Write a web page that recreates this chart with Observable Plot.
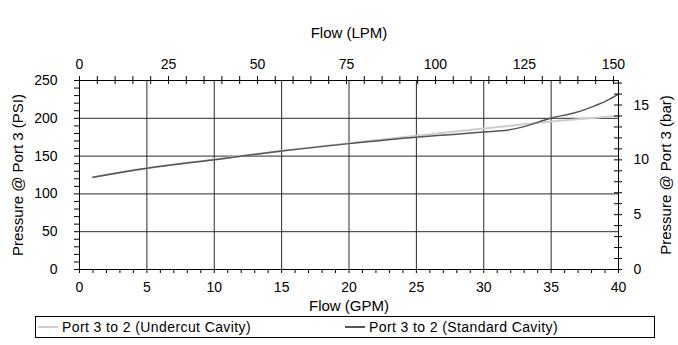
<!DOCTYPE html>
<html><head><meta charset="utf-8">
<script src="https://cdn.jsdelivr.net/npm/d3@7"></script>
<script src="https://cdn.jsdelivr.net/npm/@observablehq/plot@0.6"></script>
<style>
body{margin:0;background:#fff;font-family:"Liberation Sans",Arial,sans-serif;}
#wrap{position:relative;width:678px;height:345px;}
#chart svg{display:block;}
#legend{position:absolute;left:35px;top:316px;width:620px;height:22px;border:1px solid #000;box-sizing:border-box;font-size:14px;letter-spacing:0.4px;color:#000;background:#fff;}
.item{position:absolute;top:2px;white-space:nowrap;line-height:16px;}
.swatch{display:inline-block;width:20px;height:0;vertical-align:middle;margin-right:4px;position:relative;top:-1px;}
</style></head><body>
<div id="wrap"><div id="chart"></div><div id="legend"></div></div>
<script>
// Units
const LPM_PER_GPM = 3.78541;
const PSI_PER_BAR = 14.5038;

// Tick labels / tick positions
const gpmTicks = [0, 5, 10, 15, 20, 25, 30, 35, 40];
const gpmMinor = [0,1,2,3,4,5,6,7,8,9,10,11,12,13,14,15,16,17,18,19,20,21,22,23,24,25,26,27,28,29,30,31,32,33,34,35,36,37,38,39,40];
const psiTicks = [0, 50, 100, 150, 200, 250];
const psiMinor = [0,10,20,30,40,50,60,70,80,90,100,110,120,130,140,150,160,170,180,190,200,210,220,230,240,250];
const lpmTicks = [0, 25, 50, 75, 100, 125, 150];
const lpmMinor = [0,5,10,15,20,25,30,35,40,45,50,55,60,65,70,75,80,85,90,95,100,105,110,115,120,125,130,135,140,145,150];
const barTicks = [0, 5, 10, 15];
const barMinor = [0,1,2,3,4,5,6,7,8,9,10,11,12,13,14,15,16,17];

// Series
const seriesNames = ["Port 3 to 2 (Undercut Cavity)", "Port 3 to 2 (Standard Cavity)"];
const undercutFlow = [1.0, 5, 10, 15, 20, 25, 30, 35, 40];
const undercutPsi  = [122, 134, 145.5, 157, 167, 177, 186.5, 195.8, 203.5];
const standardFlow = [1.0, 5, 10, 15, 20, 25, 28, 30, 31.8, 33, 35, 36.7, 38.1, 39.2, 40];
const standardPsi  = [122, 134, 145.3, 156.8, 166.5, 175, 179, 182, 184.5, 189, 200.5, 207, 215.5, 224, 232];

const undercut = undercutFlow.map((x, i) => ({x, y: undercutPsi[i]}));
const standard = standardFlow.map((x, i) => ({x, y: standardPsi[i]}));

const font = "Liberation Sans, Arial, sans-serif";

const chart = Plot.plot({
  width: 678,
  height: 315,
  marginLeft: 79,
  marginRight: 60,
  marginTop: 80,
  marginBottom: 46,
  style: {fontFamily: font, fontSize: "14px", color: "#000", background: "#fff"},
  x: {domain: [0, 40]},
  y: {domain: [0, 250]},
  marks: [
    Plot.ruleX(gpmTicks, {stroke: "#2a2a2a", strokeWidth: 1}),
    Plot.ruleY(psiTicks, {stroke: "#2a2a2a", strokeWidth: 1}),
    Plot.line(undercut, {x: "x", y: "y", stroke: "#cdcdcd", strokeWidth: 2, curve: "monotone-x"}),
    Plot.line(standard, {x: "x", y: "y", stroke: "#555", strokeWidth: 1.5, curve: "monotone-x"}),
    Plot.frame({stroke: "#000"}),
    // bottom ticks (outward)
    Plot.ruleX(gpmMinor, {y1: 0, y2: 0, insetTop: 0, insetBottom: -4, stroke: "#000"}),
    Plot.axisX(gpmTicks, {anchor: "bottom", tickSize: 0, tickPadding: 13, label: null}),
    // left ticks (outward)
    Plot.ruleY(psiMinor, {x1: 0, x2: 0, insetLeft: -5, insetRight: 0, stroke: "#000"}),
    Plot.axisY(psiTicks, {anchor: "left", tickSize: 0, tickPadding: 22, label: null}),
    // top ticks (crossing), LPM
    Plot.ruleX(lpmMinor.map(v => v / LPM_PER_GPM), {y1: 250, y2: 250, insetTop: -4, insetBottom: -4, stroke: "#000"}),
    Plot.axisX(lpmTicks.map(v => v / LPM_PER_GPM), {anchor: "top", tickSize: 0, tickPadding: 12, tickFormat: d => Math.round(d * LPM_PER_GPM), label: null}),
    // right ticks (crossing), bar
    Plot.ruleY(barMinor.map(v => v * PSI_PER_BAR), {x1: 40, x2: 40, insetLeft: -4, insetRight: -4, stroke: "#000"}),
    Plot.axisY(barTicks.map(v => v * PSI_PER_BAR), {anchor: "right", tickSize: 0, tickPadding: 15, tickFormat: d => Math.round(d / PSI_PER_BAR), label: null}),
    // axis titles
    Plot.text(["Flow (GPM)"], {frameAnchor: "bottom", dy: 37, lineAnchor: "middle", textAnchor: "middle", text: d => d, fontSize: 15}),
    Plot.text(["Flow (LPM)"], {frameAnchor: "top", dy: -47, lineAnchor: "middle", textAnchor: "middle", text: d => d, fontSize: 15}),
    Plot.text(["Pressure @ Port 3 (PSI)"], {frameAnchor: "left", dx: -61, rotate: -90, lineAnchor: "middle", textAnchor: "middle", text: d => d, fontSize: 15}),
    Plot.text(["Pressure @ Port 3 (bar)"], {frameAnchor: "right", dx: 48, rotate: -90, lineAnchor: "middle", textAnchor: "middle", text: d => d, fontSize: 15})
  ]
});
document.getElementById("chart").append(chart);

const legend = document.getElementById("legend");
const legendStyles = [
  {left: 2, color: "#cdcdcd", width: 2},
  {left: 309, color: "#555", width: 2}
];
seriesNames.forEach((name, i) => {
  const it = document.createElement("div");
  it.className = "item";
  it.style.left = legendStyles[i].left + "px";
  const sw = document.createElement("span");
  sw.className = "swatch";
  sw.style.borderTop = legendStyles[i].width + "px solid " + legendStyles[i].color;
  it.append(sw, document.createTextNode(name));
  legend.append(it);
});
</script>
</body></html>
